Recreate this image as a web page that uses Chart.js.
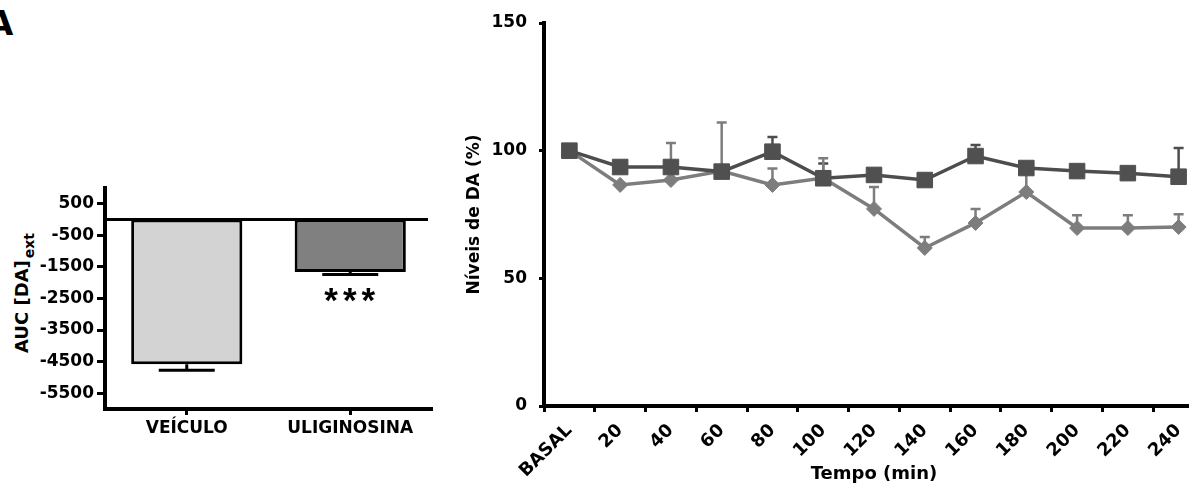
<!DOCTYPE html>
<html><head><meta charset="utf-8">
<script src="https://cdn.jsdelivr.net/npm/chart.js@4.4.0/dist/chart.umd.min.js"></script>
<style>
html,body{margin:0;padding:0;width:1189px;height:489px;overflow:hidden;background:#fff;font-family:'DejaVu Sans',sans-serif;}
#c1{position:absolute;left:0;top:0;}
#c2{position:absolute;left:460px;top:0;}
#panel{position:absolute;left:-13px;top:3px;font:bold 34px 'DejaVu Sans',sans-serif;color:#000;line-height:40px;}
#ytitle{position:absolute;left:21px;top:293px;transform:translate(-50%,-50%) rotate(-90deg);font:bold 18px 'DejaVu Sans',sans-serif;white-space:nowrap;color:#000;}
#ytitle span{font-size:14px;position:relative;top:6px;margin-left:2px;}
</style>
</head><body>
<div id="panel">A</div>
<div id="ytitle">AUC [DA]<span>ext</span></div>
<canvas id="c1" width="440" height="489"></canvas>
<canvas id="c2" width="760" height="489"></canvas>
<script>
// ---- Panel A (bars) ----
const barCategories = ['VEÍCULO', 'ULIGINOSINA'];
const barValues = [-4580, -1660];
const barErrors = [190, 80];
const barColors = ['#d3d3d3', '#808080'];
const barYTicks = [500, -500, -1500, -2500, -3500, -4500, -5500];
const barSignif = ['', '***'];

// ---- Line panel ----
const timeLabels = ['BASAL', '20', '40', '60', '80', '100', '120', '140', '160', '180', '200', '220', '240'];
const uligValues = [100, 93.6, 93.6, 91.8, 99.6, 89.2, 90.5, 88.5, 97.9, 93.2, 92.0, 91.2, 89.8];
const uligErrors = [0, 0, 0, 0, 5.8, 5.8, 0, 0, 4.3, 0, 0, 0, 11.2];
const veiculoValues = [100, 86.6, 88.5, 92.0, 86.6, 89.3, 77.2, 61.9, 71.7, 83.8, 69.7, 69.7, 70.1];
const veiculoErrors = [0, 0, 14.5, 19, 6.4, 7.7, 8.6, 4.3, 5.5, 9, 5, 5, 5];
const lineYTicks = [0, 50, 100, 150];

const FONT = "'DejaVu Sans', sans-serif";
Chart.defaults.font.family = FONT;
Chart.defaults.color = '#000';

const barExtras = {
  id: 'barExtras',
  afterDatasetsDraw(chart) {
    const {ctx, chartArea} = chart;
    const x = chart.scales.x, y = chart.scales.y;
    ctx.save();
    ctx.strokeStyle = '#000';
    ctx.lineWidth = 3;
    const y0 = y.getPixelForValue(0);
    ctx.beginPath();
    ctx.moveTo(chartArea.left, y0);
    ctx.lineTo(chartArea.right - 4, y0);
    ctx.stroke();
    barValues.forEach((v, i) => {
      const cx = x.getPixelForValue(i);
      const yb = y.getPixelForValue(v);
      const ye = y.getPixelForValue(v - barErrors[i]);
      ctx.beginPath();
      ctx.moveTo(cx, yb); ctx.lineTo(cx, ye);
      ctx.moveTo(cx - 28, ye); ctx.lineTo(cx + 28, ye);
      ctx.stroke();
      if (barSignif[i]) {
        ctx.fillStyle = '#000';
        ctx.font = "bold 35px 'Liberation Sans', Arial, sans-serif";
        ctx.textAlign = 'center';
        ctx.textBaseline = 'middle';
        ctx.letterSpacing = '5px';
        ctx.fillText(barSignif[i], cx + 2, ye + 28);
      }
    });
    ctx.restore();
  }
};

new Chart(document.getElementById('c1'), {
  type: 'bar',
  data: {
    labels: barCategories,
    datasets: [{
      data: barValues,
      backgroundColor: barColors,
      borderColor: '#000',
      borderWidth: 3,
      borderSkipped: false,
      categoryPercentage: 1,
      barPercentage: 0.68
    }]
  },
  options: {
    responsive: false,
    animation: false,
    layout: {padding: {top: 188, right: 8, left: 0, bottom: 0}},
    plugins: {legend: {display: false}, tooltip: {enabled: false}},
    scales: {
      x: {
        type: 'category',
        offset: true,
        grid: {display: true, drawOnChartArea: false, offset: false, tickLength: 6, tickWidth: 3, tickColor: '#000'},
        border: {display: true, color: '#000', width: 4},
        ticks: {font: {size: 17, weight: 'bold'}, color: '#000', padding: 3, maxRotation: 0},
        afterFit(s) { s.height = 80; }
      },
      y: {
        min: -6000, max: 1000,
        afterBuildTicks(s) { s.ticks = barYTicks.map(v => ({value: v})); },
        grid: {display: true, drawOnChartArea: false, tickLength: 8, tickWidth: 3, tickColor: '#000'},
        border: {display: true, color: '#000', width: 4},
        ticks: {font: {size: 17, weight: 'bold'}, color: '#000', padding: 3, callback: v => String(v)},
        afterFit(s) { s.width = 105; }
      }
    }
  },
  plugins: [barExtras]
});

const errorBars = {
  id: 'errorBars',
  beforeDatasetsDraw(chart) {
    const {ctx} = chart;
    const x = chart.scales.x, y = chart.scales.y;
    ctx.save();
    chart.data.datasets.forEach(ds => {
      ctx.strokeStyle = ds.borderColor;
      ctx.lineWidth = 2.5;
      ds.data.forEach((v, i) => {
        const e = ds.errUp[i];
        if (!e) return;
        const cx = x.getPixelForValue(i);
        const yv = y.getPixelForValue(v);
        const ye = y.getPixelForValue(v + e);
        ctx.beginPath();
        ctx.moveTo(cx, yv); ctx.lineTo(cx, ye);
        ctx.moveTo(cx - 5, ye); ctx.lineTo(cx + 5, ye);
        ctx.stroke();
      });
    });
    ctx.restore();
  }
};

new Chart(document.getElementById('c2'), {
  type: 'line',
  data: {
    labels: timeLabels,
    datasets: [
      {
        label: 'Uliginosina',
        data: uligValues,
        errUp: uligErrors,
        borderColor: '#4d4d4d',
        backgroundColor: '#505050',
        borderWidth: 3.5,
        pointStyle: 'rect',
        pointRadius: 11,
        pointBorderWidth: 1,
        pointBorderColor: '#505050',
        pointBackgroundColor: '#505050',
        tension: 0
      },
      {
        label: 'Veículo',
        data: veiculoValues,
        errUp: veiculoErrors,
        borderColor: '#7d7d7d',
        backgroundColor: '#7d7d7d',
        borderWidth: 3.5,
        pointStyle: 'rectRot',
        pointRadius: 7.5,
        pointBorderWidth: 1,
        pointBorderColor: '#7d7d7d',
        pointBackgroundColor: '#7d7d7d',
        tension: 0
      }
    ]
  },
  options: {
    responsive: false,
    animation: false,
    layout: {padding: {top: 23, right: 16, left: 0, bottom: 0}},
    plugins: {legend: {display: false}, tooltip: {enabled: false}},
    scales: {
      x: {
        type: 'category',
        offset: true,
        grid: {display: true, drawOnChartArea: false, offset: true, tickLength: 6, tickWidth: 3, tickColor: '#000'},
        border: {display: true, color: '#000', width: 4},
        ticks: {font: {size: 18, weight: 'bold'}, color: '#000', padding: 8, minRotation: 45, maxRotation: 45, autoSkip: false},
        title: {display: true, text: 'Tempo (min)', font: {size: 18, weight: 'bold'}, color: '#000', padding: {top: 0, bottom: 4}},
        afterFit(s) { s.height = 83; }
      },
      y: {
        min: 0, max: 150,
        afterBuildTicks(s) { s.ticks = lineYTicks.map(v => ({value: v})); },
        grid: {display: true, drawOnChartArea: false, tickLength: 5, tickWidth: 3, tickColor: '#000'},
        border: {display: true, color: '#000', width: 4},
        ticks: {font: {size: 17, weight: 'bold'}, color: '#000', padding: 12},
        title: {display: true, text: 'Níveis de DA (%)', font: {size: 17, weight: 'bold'}, color: '#000', padding: {top: 4, bottom: 0}},
        afterFit(s) { s.width = 84; }
      }
    }
  },
  plugins: [errorBars]
});
</script>
</body></html>
